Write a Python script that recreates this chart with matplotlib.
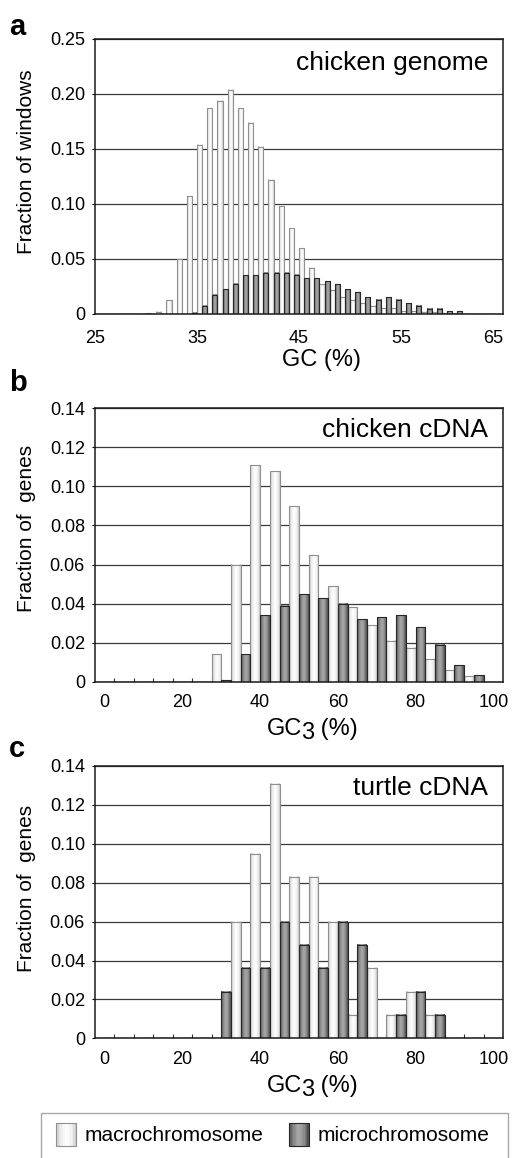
import numpy as np
import matplotlib
matplotlib.use('Agg')
import matplotlib.pyplot as plt
from matplotlib.colors import LinearSegmentedColormap
from matplotlib.patches import Rectangle, Patch
from matplotlib.legend_handler import HandlerBase

plt.rcParams['font.family'] = ['Liberation Sans', 'DejaVu Sans']

# ---------------- data ----------------
# panel a: chicken genome, GC bins of 1 % (bin start)
gc_bins = list(range(25, 65))
genome_macro = [0, 0, 0, 0, 0, 0.0005, 0.002, 0.0127, 0.050, 0.107,
                0.154, 0.187, 0.194, 0.204, 0.187, 0.174, 0.152, 0.122, 0.098, 0.078,
                0.060, 0.042, 0.027, 0.022, 0.015, 0.013, 0.0098, 0.0073, 0.0052, 0.0052,
                0.0027, 0.0027, 0.002, 0.002, 0.001, 0.0005, 0, 0, 0, 0]
genome_micro = [0, 0, 0, 0, 0, 0, 0, 0, 0, 0.001,
                0.0073, 0.0176, 0.0224, 0.0273, 0.0352, 0.0352, 0.0376, 0.0376, 0.0376, 0.0355,
                0.0327, 0.0327, 0.0297, 0.027, 0.0225, 0.0198, 0.0153, 0.0128, 0.0153, 0.0128,
                0.0098, 0.0073, 0.0046, 0.0046, 0.0027, 0.0027, 0, 0, 0, 0]

# panels b, c: GC3 categories of 5 %
gc3_bins = list(range(0, 101, 5))
chicken_macro = [0, 0, 0, 0, 0, 0, 0.014, 0.060, 0.111, 0.108, 0.090,
                 0.065, 0.049, 0.038, 0.029, 0.021, 0.0175, 0.0115, 0.006, 0.003, 0]
chicken_micro = [0, 0, 0, 0, 0, 0, 0.001, 0.014, 0.034, 0.039, 0.045,
                 0.043, 0.040, 0.032, 0.033, 0.034, 0.028, 0.019, 0.0084, 0.0033, 0]
turtle_macro = [0, 0, 0, 0, 0, 0, 0, 0.060, 0.095, 0.131, 0.083,
                0.083, 0.060, 0.012, 0.036, 0.012, 0.024, 0.012, 0, 0, 0]
turtle_micro = [0, 0, 0, 0, 0, 0, 0.024, 0.036, 0.036, 0.060, 0.048,
                0.036, 0.060, 0.048, 0, 0.012, 0.024, 0.012, 0, 0, 0]

a_xticks = [25, 35, 45, 55, 65]
bc_xticks = [0, 20, 40, 60, 80, 100]
a_yticks = [0, 0.05, 0.10, 0.15, 0.20, 0.25]
a_yticklabels = ['0', '0.05', '0.10', '0.15', '0.20', '0.25']
bc_yticks = [0, 0.02, 0.04, 0.06, 0.08, 0.10, 0.12, 0.14]
bc_yticklabels = ['0', '0.02', '0.04', '0.06', '0.08', '0.10', '0.12', '0.14']
series_names = ['macrochromosome', 'microchromosome']
panel_titles = ['chicken genome', 'chicken cDNA', 'turtle cDNA']
panel_letters = ['a', 'b', 'c']

# ---------------- styling ----------------
W, H = 515, 1158
fig = plt.figure(figsize=(W / 100, H / 100), dpi=100)

white_cmap = LinearSegmentedColormap.from_list(
    'w', [(0, '#bdbdbd'), (0.2, '#e8e8e8'), (0.5, '#ffffff'), (0.8, '#f0f0f0'), (1, '#c8c8c8')])
dark_cmap = LinearSegmentedColormap.from_list(
    'd', [(0, '#4e4e4e'), (0.25, '#8a8a8a'), (0.5, '#ababab'), (0.75, '#8c8c8c'), (1, '#4a4a4a')])
white_edge = '#8f8f8f'
dark_edge = '#262626'


def add_axes(l, t, r, b):
    return fig.add_axes([l / W, 1 - b / H, (r - l) / W, (b - t) / H])


def shaded_bars(ax, x, h, width, cmap, edge):
    bars = ax.bar(x, h, width=width, facecolor='none', edgecolor=edge,
                  linewidth=0.8, zorder=3)
    grad = np.linspace(0, 1, 64).reshape(1, -1)
    for p in bars.patches:
        hh = p.get_height()
        if hh <= 0:
            continue
        x0, w = p.get_x(), p.get_width()
        ax.imshow(grad, extent=[x0, x0 + w, 0, hh], aspect='auto', cmap=cmap,
                  vmin=0, vmax=1, origin='lower', interpolation='bilinear', zorder=2)
    return bars


def style_axes(ax, yticks, yticklabels, ylim):
    ax.set_ylim(*ylim)
    ax.set_yticks(yticks)
    ax.set_yticklabels(yticklabels, fontsize=13)
    ax.tick_params(axis='y', direction='out', length=2.2, width=0.8, pad=5, colors='black')
    ax.yaxis.grid(True, color='#3a3a3a', linewidth=0.9, zorder=1)
    ax.set_axisbelow(True)
    for s in ax.spines.values():
        s.set_linewidth(1.1)
        s.set_color('#1a1a1a')
        s.set_zorder(5)


# ---------------- panel a ----------------
ax_a = add_axes(95, 39, 503, 314)
xa = np.array(gc_bins, dtype=float)
shaded_bars(ax_a, xa + 0.25, genome_macro, 0.5, white_cmap, white_edge)
shaded_bars(ax_a, xa + 0.75, genome_micro, 0.5, dark_cmap, dark_edge)
ax_a.set_xlim(25, 65)
ax_a.set_xticks(a_xticks)
labs = ax_a.set_xticklabels([str(v) for v in a_xticks], fontsize=13)
labs[-1].set_ha('right')
ax_a.tick_params(axis='x', length=0, pad=11.5)
style_axes(ax_a, a_yticks, a_yticklabels, (0, 0.25))
ax_a.text(0.963, 0.887, panel_titles[0], transform=ax_a.transAxes,
          ha='right', va='baseline', fontsize=19)

# ---------------- panels b, c ----------------
def gc3_panel(rect, macro, micro, title):
    ax = add_axes(*rect)
    xc = np.array(gc3_bins, dtype=float)
    shaded_bars(ax, xc - 1.25, macro, 2.5, white_cmap, white_edge)
    shaded_bars(ax, xc + 1.25, micro, 2.5, dark_cmap, dark_edge)
    ax.set_xlim(-2.5, 102.5)
    ax.set_xticks(bc_xticks)
    ax.set_xticklabels([str(v) for v in bc_xticks], fontsize=13)
    ax.set_xticks(xc[:-1] + 2.5, minor=True)
    ax.tick_params(axis='x', which='major', length=0, pad=9)
    ax.tick_params(axis='x', which='minor', direction='in', length=3, width=0.8, colors='#333333')
    style_axes(ax, bc_yticks, bc_yticklabels, (0, 0.14))
    ax.text(0.963, 0.895, title, transform=ax.transAxes,
            ha='right', va='baseline', fontsize=19)
    return ax


ax_b = gc3_panel((95, 408.3, 503, 681.7), chicken_macro, chicken_micro, panel_titles[1])
ax_c = gc3_panel((95, 766, 503, 1038.3), turtle_macro, turtle_micro, panel_titles[2])

# ---------------- axis labels ----------------
fig.text(281.7 / W, 1 - 366 / H, 'GC (%)', fontsize=17, ha='left', va='baseline')


def gc3_label(ax, x_px, base_px):
    t1 = fig.text(x_px / W, 1 - base_px / H, 'GC', fontsize=17, ha='left', va='baseline')
    t2 = ax.annotate('3', xy=(1, 0), xycoords=t1, xytext=(-0.8, -3.2), textcoords='offset points',
                     ha='left', va='bottom', fontsize=17, annotation_clip=False)
    ax.annotate(' (%)', xy=(1, 0), xycoords=t2, xytext=(0, 3.2), textcoords='offset points',
                ha='left', va='bottom', fontsize=17, annotation_clip=False)


gc3_label(ax_b, 266.7, 735)
gc3_label(ax_c, 266.7, 1092)

fig.text(27 / W, 1 - 162 / H, 'Fraction of windows', rotation=90, fontsize=15,
         ha='center', va='center')
fig.text(27 / W, 1 - 528 / H, 'Fraction of  genes', rotation=90, fontsize=15,
         ha='center', va='center')
fig.text(27 / W, 1 - 888 / H, 'Fraction of  genes', rotation=90, fontsize=15,
         ha='center', va='center')

for letter, ypx in zip(panel_letters, [35, 391, 757]):
    fig.text(9 / W, 1 - ypx / H, letter, fontsize=21, fontweight='bold',
             ha='left', va='baseline')

# ---------------- legend ----------------
class GradHandler(HandlerBase):
    def __init__(self, cmap, edge):
        super().__init__()
        self.cmap = cmap
        self.edge = edge

    def create_artists(self, legend, orig_handle, xdescent, ydescent, width, height,
                       fontsize, trans):
        arts = []
        n = 14
        for i in range(n):
            arts.append(Rectangle((-xdescent + width * i / n, -ydescent), width / n, height,
                                  facecolor=self.cmap((i + 0.5) / n), edgecolor='none',
                                  transform=trans))
        arts.append(Rectangle((-xdescent, -ydescent), width, height, facecolor='none',
                              edgecolor=self.edge, linewidth=0.8, transform=trans))
        return arts


fig.add_artist(Rectangle((40.7 / W, 1 - 1170 / H), (508.3 - 40.7) / W, (1170 - 1113) / H,
                         transform=fig.transFigure, facecolor='white',
                         edgecolor='#a8a8a8', linewidth=1.0))
h1, h2 = Patch(), Patch()
fs = 15
px = fs * 100 / 72
fig.legend([h1, h2], series_names,
           handler_map={h1: GradHandler(white_cmap, white_edge),
                        h2: GradHandler(dark_cmap, dark_edge)},
           loc='upper left', bbox_to_anchor=(56 / W, 1 - 1122.5 / H), ncol=2,
           frameon=False, fontsize=fs, borderpad=0, borderaxespad=0,
           handlelength=20 / px, handleheight=28 / px, handletextpad=9 / px,
           columnspacing=25 / px)

fig.savefig('out.png', dpi=100)
